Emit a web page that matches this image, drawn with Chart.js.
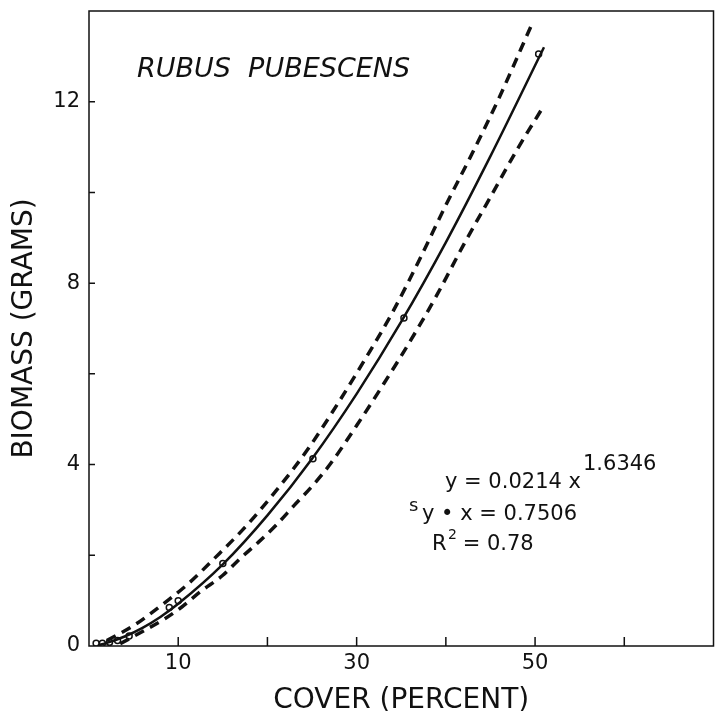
<!DOCTYPE html>
<html>
<head>
<meta charset="utf-8">
<title>Rubus pubescens biomass</title>
<script src="https://cdn.jsdelivr.net/npm/chart.js@4.4.1/dist/chart.umd.min.js"></script>
<style>
  html, body { margin: 0; padding: 0; background: #fff; }
  #wrap { width: 719px; height: 711px; position: relative; }
</style>
</head>
<body>
<div id="wrap"><canvas id="biomassChart"></canvas></div>
<script>
/* ---------------------------------------------------------
   Data (cover %, biomass g)
   --------------------------------------------------------- */
var fitX   = [1, 2, 4, 6, 8, 10, 15, 20, 25, 30, 35, 40, 45, 51];
var fitY   = [0.02, 0.07, 0.21, 0.40, 0.64, 0.93, 1.80, 2.88, 4.13, 5.56, 7.15, 8.90, 10.8, 13.2];

var upperX = [2, 5, 8, 11, 14, 17.5, 21, 24.5, 28, 31, 34, 37, 40, 43, 46, 49.6];
var upperY = [0.12, 0.45, 0.88, 1.35, 1.92, 2.62, 3.43, 4.33, 5.38, 6.34, 7.35, 8.5, 9.72, 10.88, 12.1, 13.69];

var lowerX = [3.5, 6, 8.5, 10.4, 12.5, 15, 17, 19, 21, 23, 25, 27, 30, 33, 36, 39, 42, 45, 48, 50.7];
var lowerY = [0.05, 0.32, 0.6, 0.86, 1.2, 1.56, 1.94, 2.29, 2.67, 3.10, 3.52, 4.0, 4.86, 5.77, 6.72, 7.74, 8.85, 9.9, 10.95, 11.82];

var obsX   = [0.8, 1.5, 2.3, 3.2, 4.5, 9, 10, 15, 25.1, 35.3, 50.4];
var obsY   = [0.06, 0.06, 0.08, 0.12, 0.22, 0.85, 1.0, 1.82, 4.13, 7.23, 13.05];

var xTickLabels = [10, 30, 50];
var yTickLabels = [0, 4, 8, 12];

function pts(xs, ys) {
  return xs.map(function (x, i) { return { x: x, y: ys[i] }; });
}

var INK = '#111';
var FONT = '"DejaVu Sans", sans-serif';

/* frame, inward ticks and the text annotations */
var framePlugin = {
  id: 'frame',
  afterDraw: function (chart) {
    var c = chart.ctx, a = chart.chartArea;
    var xs = chart.scales.x, ys = chart.scales.y;
    c.save();
    c.strokeStyle = INK;
    c.lineWidth = 1.5;
    c.strokeRect(a.left, a.top, a.right - a.left, a.bottom - a.top);

    c.beginPath();
    xs.ticks.forEach(function (t) {
      if (t.value <= xs.min || t.value >= xs.max) return;
      var px = xs.getPixelForValue(t.value);
      c.moveTo(px, a.bottom);
      c.lineTo(px, a.bottom - 9);
    });
    ys.ticks.forEach(function (t) {
      if (t.value <= ys.min || t.value >= ys.max) return;
      var py = ys.getPixelForValue(t.value);
      c.moveTo(a.left, py);
      c.lineTo(a.left + 6, py);
    });
    c.stroke();

    c.fillStyle = INK;
    c.textBaseline = 'alphabetic';
    c.font = 'italic 27px ' + FONT;
    c.fillText('RUBUS  PUBESCENS', 137, 77);

    c.font = '21px ' + FONT;
    c.fillText('y = 0.0214 x', 445, 488);
    c.fillText('1.6346', 583, 470);
    c.font = '18px ' + FONT;
    c.fillText('s', 409, 511);
    c.font = '21px ' + FONT;
    c.fillText('y \u2022 x = 0.7506', 422, 520);
    c.fillText('R', 432, 550);
    c.font = '14px ' + FONT;
    c.fillText('2', 448, 539);
    c.font = '21px ' + FONT;
    c.fillText(' = 0.78', 456, 550);
    c.restore();
  }
};

new Chart(document.getElementById('biomassChart'), {
  type: 'scatter',
  data: {
    datasets: [
      {
        label: 'fit',
        data: pts(fitX, fitY),
        showLine: true,
        borderColor: INK,
        borderWidth: 2.5,
        pointRadius: 0,
        cubicInterpolationMode: 'monotone'
      },
      {
        label: 'upper',
        data: pts(upperX, upperY),
        showLine: true,
        borderColor: INK,
        borderWidth: 3.5,
        borderDash: [10, 7],
        pointRadius: 0,
        cubicInterpolationMode: 'monotone'
      },
      {
        label: 'lower',
        data: pts(lowerX, lowerY),
        showLine: true,
        borderColor: INK,
        borderWidth: 3.5,
        borderDash: [10, 7],
        pointRadius: 0,
        cubicInterpolationMode: 'monotone'
      },
      {
        label: 'observed',
        data: pts(obsX, obsY),
        showLine: false,
        pointRadius: 3,
        pointBorderWidth: 1.5,
        pointBorderColor: INK,
        pointBackgroundColor: '#fff'
      }
    ]
  },
  options: {
    responsive: true,
    maintainAspectRatio: false,
    animation: false,
    layout: { padding: { top: 11, right: 0, left: 0, bottom: 0 } },
    plugins: {
      legend: { display: false },
      tooltip: { enabled: false }
    },
    scales: {
      x: {
        type: 'linear',
        min: 0,
        max: 70,
        afterFit: function (s) {
          s.height = 65;
          s.paddingLeft = 0;
          s.paddingRight = 0;
        },
        grid: { display: false, drawTicks: false },
        border: { display: false },
        ticks: {
          stepSize: 10,
          padding: 5,
          color: INK,
          font: { family: FONT, size: 21 },
          callback: function (v) { return xTickLabels.indexOf(v) >= 0 ? String(v) : ''; }
        },
        title: {
          display: true,
          text: 'COVER (PERCENT)',
          color: INK,
          font: { family: FONT, size: 28, lineHeight: 1 },
          padding: { top: 0, bottom: -4 }
        }
      },
      y: {
        type: 'linear',
        min: 0,
        max: 14,
        afterFit: function (s) {
          s.width = 89;
          s.paddingTop = 0;
          s.paddingBottom = 0;
        },
        grid: { display: false, drawTicks: false },
        border: { display: false },
        ticks: {
          stepSize: 2,
          padding: 9,
          color: INK,
          font: { family: FONT, size: 21 },
          callback: function (v) { return yTickLabels.indexOf(v) >= 0 ? String(v) : ''; }
        },
        title: {
          display: true,
          text: 'BIOMASS (GRAMS)',
          color: INK,
          font: { family: FONT, size: 28, lineHeight: 1 },
          padding: { top: 11, bottom: 0 }
        }
      }
    }
  },
  plugins: [framePlugin]
});
</script>
</body>
</html>
